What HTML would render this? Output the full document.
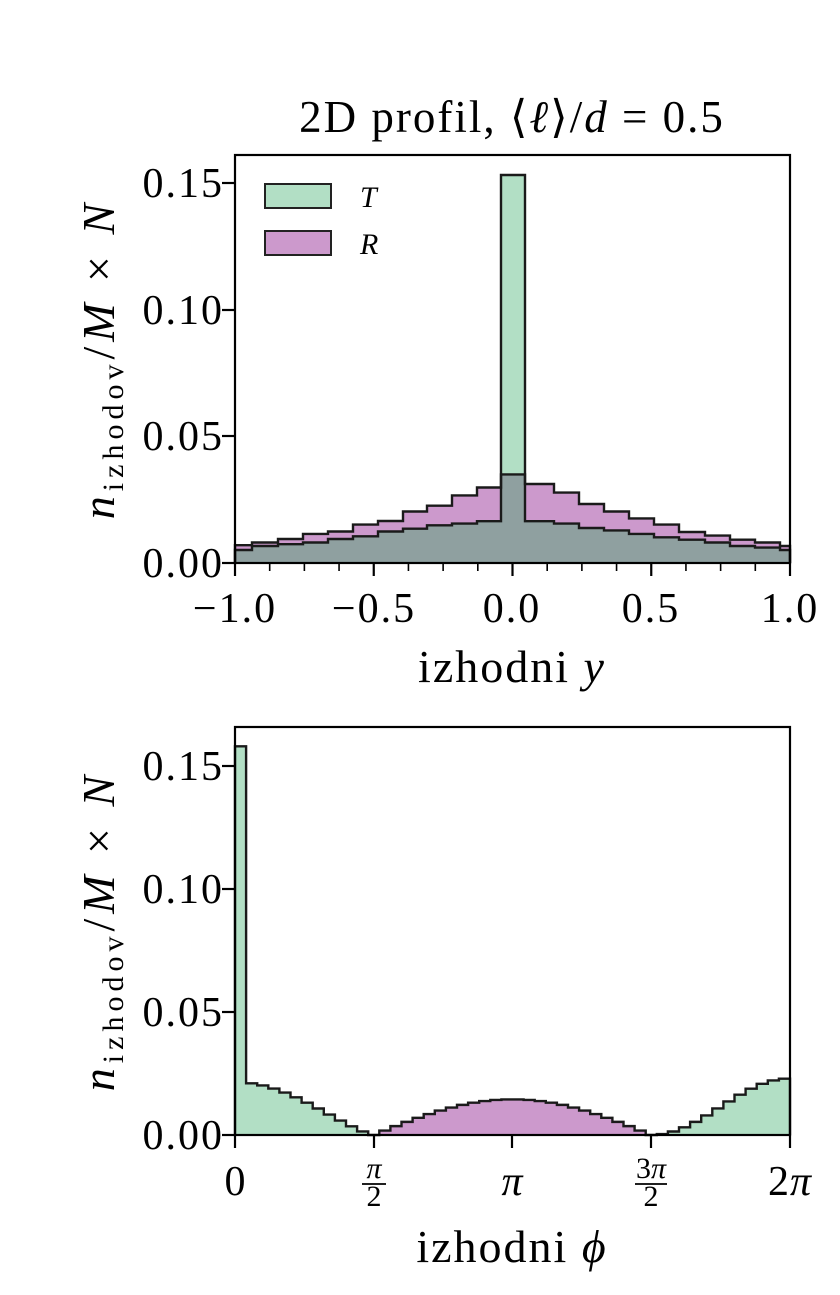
<!DOCTYPE html><html><head><meta charset="utf-8"><style>
body{margin:0;background:#fff;}
svg text{font-family:"Liberation Serif","DejaVu Serif",serif;fill:#000;}
</style></head><body>
<svg id="s" width="840" height="1290" viewBox="0 0 840 1290" xmlns="http://www.w3.org/2000/svg">
<text x="512" y="132" font-size="45" text-anchor="middle" letter-spacing="2">2D profil, ⟨<tspan font-style="italic">ℓ</tspan>⟩/<tspan font-style="italic">d</tspan> = 0.5</text>
<g id="topg"></g><g id="botg"></g>
<rect x="235" y="155" width="555" height="408" fill="none" stroke="#000" stroke-width="2.2"/>
<g font-size="42" text-anchor="end" letter-spacing="2">
<text x="224" y="577">0.00</text><text x="224" y="450">0.05</text><text x="224" y="324">0.10</text><text x="224" y="197">0.15</text>
</g>
<g stroke="#000" stroke-width="2.2"><line x1="222" y1="563" x2="235" y2="563"/><line x1="222" y1="436" x2="235" y2="436"/><line x1="222" y1="310" x2="235" y2="310"/><line x1="222" y1="183" x2="235" y2="183"/></g>
<g font-size="42" text-anchor="middle" letter-spacing="2">
<text x="235" y="622">−1.0</text><text x="374" y="622">−0.5</text><text x="512" y="622">0.0</text><text x="651" y="622">0.5</text><text x="790" y="622">1.0</text>
</g>
<text x="512" y="682" font-size="46" text-anchor="middle" letter-spacing="2">izhodni <tspan font-style="italic">y</tspan></text>
<text transform="translate(114,359) rotate(-90)" font-size="46" text-anchor="middle" letter-spacing="5"><tspan font-style="italic">n</tspan><tspan font-size="30" dy="9">izhodov</tspan><tspan dy="-9">/</tspan><tspan font-style="italic">M</tspan> × <tspan font-style="italic">N</tspan></text>
<rect x="265" y="184" width="66" height="24" fill="#b2dfc5" stroke="#222" stroke-width="2"/>
<rect x="265" y="231" width="66" height="24" fill="#cc99cc" stroke="#222" stroke-width="2"/>
<text x="360" y="207" font-size="30" font-style="italic">T</text>
<text x="360" y="254" font-size="30" font-style="italic">R</text>
<rect x="235" y="727" width="555" height="408" fill="none" stroke="#000" stroke-width="2.2"/>
<g font-size="42" text-anchor="end" letter-spacing="2">
<text x="224" y="1149">0.00</text><text x="224" y="1026">0.05</text><text x="224" y="903">0.10</text><text x="224" y="780">0.15</text>
</g>
<g stroke="#000" stroke-width="2.2"><line x1="222" y1="1135" x2="235" y2="1135"/><line x1="222" y1="1012" x2="235" y2="1012"/><line x1="222" y1="889" x2="235" y2="889"/><line x1="222" y1="766" x2="235" y2="766"/>
<line x1="235" y1="1135" x2="235" y2="1148"/><line x1="374" y1="1135" x2="374" y2="1148"/><line x1="512" y1="1135" x2="512" y2="1148"/><line x1="651" y1="1135" x2="651" y2="1148"/><line x1="790" y1="1135" x2="790" y2="1148"/></g>
<g font-size="42" text-anchor="middle">
<text x="235" y="1195">0</text><text x="512" y="1195" font-style="italic">π</text><text x="790" y="1195" letter-spacing="1">2<tspan font-style="italic">π</tspan></text>
<text x="374" y="1178" font-size="30" font-style="italic">π</text><line x1="362" y1="1184" x2="386" y2="1184" stroke="#000" stroke-width="1.8"/><text x="374" y="1206" font-size="30">2</text>
<text x="651" y="1178" font-size="30">3<tspan font-style="italic">π</tspan></text><line x1="635" y1="1184" x2="667" y2="1184" stroke="#000" stroke-width="1.8"/><text x="651" y="1206" font-size="30">2</text>
</g>
<text x="512" y="1262" font-size="46" text-anchor="middle" letter-spacing="2">izhodni <tspan font-style="italic">ϕ</tspan></text>
<text transform="translate(114,931) rotate(-90)" font-size="46" text-anchor="middle" letter-spacing="5"><tspan font-style="italic">n</tspan><tspan font-size="30" dy="9">izhodov</tspan><tspan dy="-9">/</tspan><tspan font-style="italic">M</tspan> × <tspan font-style="italic">N</tspan></text>
</svg>
<script>
(function(){
var NS="http://www.w3.org/2000/svg";
function el(p,t,a){var e=document.createElementNS(NS,t);for(var k in a)e.setAttribute(k,a[k]);p.appendChild(e);return e;}
function step(B,Y,y0){var d="M"+B[0]+","+y0;for(var i=0;i<Y.length;i++){d+=" L"+B[i]+","+Y[i]+" L"+B[i+1]+","+Y[i];}d+=" L"+B[B.length-1]+","+y0;return d;}
var B=[235,252,278,303,328,353,378,403,427,452,477,501,525,554,579,604,629,654,679,705,730,755,780,790];
var R=[545.2,542.5,539,533.9,531.5,524.6,521,511.5,505.7,495.4,487.5,474.4,484,492.6,504,511.5,518.4,524.6,532,535.6,539.7,542.5,546];
var T=[550,546,544.2,542.5,539,536.3,531.5,528.7,525.3,523.6,521.2,175,521.2,523.6,528,530.4,533.9,537.3,539.7,542.5,546,547.6,550];
var G=T.map(function(v,i){return Math.max(v,R[i]);});
var tg=document.getElementById("topg");
el(tg,"path",{d:step(B,R,563),fill:"#cc99cc"});
el(tg,"path",{d:step(B,T,563),fill:"#b2dfc5"});
el(tg,"path",{d:step(B,G,563),fill:"#8fa0a0"});
el(tg,"path",{d:step(B,R,563),fill:"none",stroke:"#1a1a1a","stroke-width":2.4});
el(tg,"path",{d:step(B,T,563),fill:"none",stroke:"#1a1a1a","stroke-width":2.4});
for(var i=0;i<=16;i++){var x=235+i*555/16;var L=(i%4==0)?13:8;el(tg,"line",{x1:x,y1:563,x2:x,y2:563+L,stroke:"#000","stroke-width":(i%4==0)?2.2:1.6});}
var bg=document.getElementById("botg");var N=50,w=555/N,sc=2460;
var Bb=[],Gv=[],Pv=[];
for(var i=0;i<=N;i++)Bb.push(235+i*w);
for(var i=0;i<N;i++){var ph=(i+0.5)/N*2*Math.PI,c=Math.cos(ph),g=0,p=0;
 if(ph<Math.PI/2)g=0.0215*Math.pow(c,1.3);else if(ph>1.5*Math.PI)g=0.023*Math.pow(c,2);else p=0.0145*Math.pow(-c,1.0);
 if(i==0)g=0.158;
 Gv.push(1135-g*sc);Pv.push(1135-p*sc);}
el(bg,"path",{d:step(Bb,Pv,1135),fill:"#cc99cc"});
el(bg,"path",{d:step(Bb,Gv,1135),fill:"#b2dfc5"});
var C=Gv.map(function(v,i){return Math.min(v,Pv[i]);});
el(bg,"path",{d:step(Bb,C,1135),fill:"none",stroke:"#1a1a1a","stroke-width":2.4});
})();
</script>
</body></html>
